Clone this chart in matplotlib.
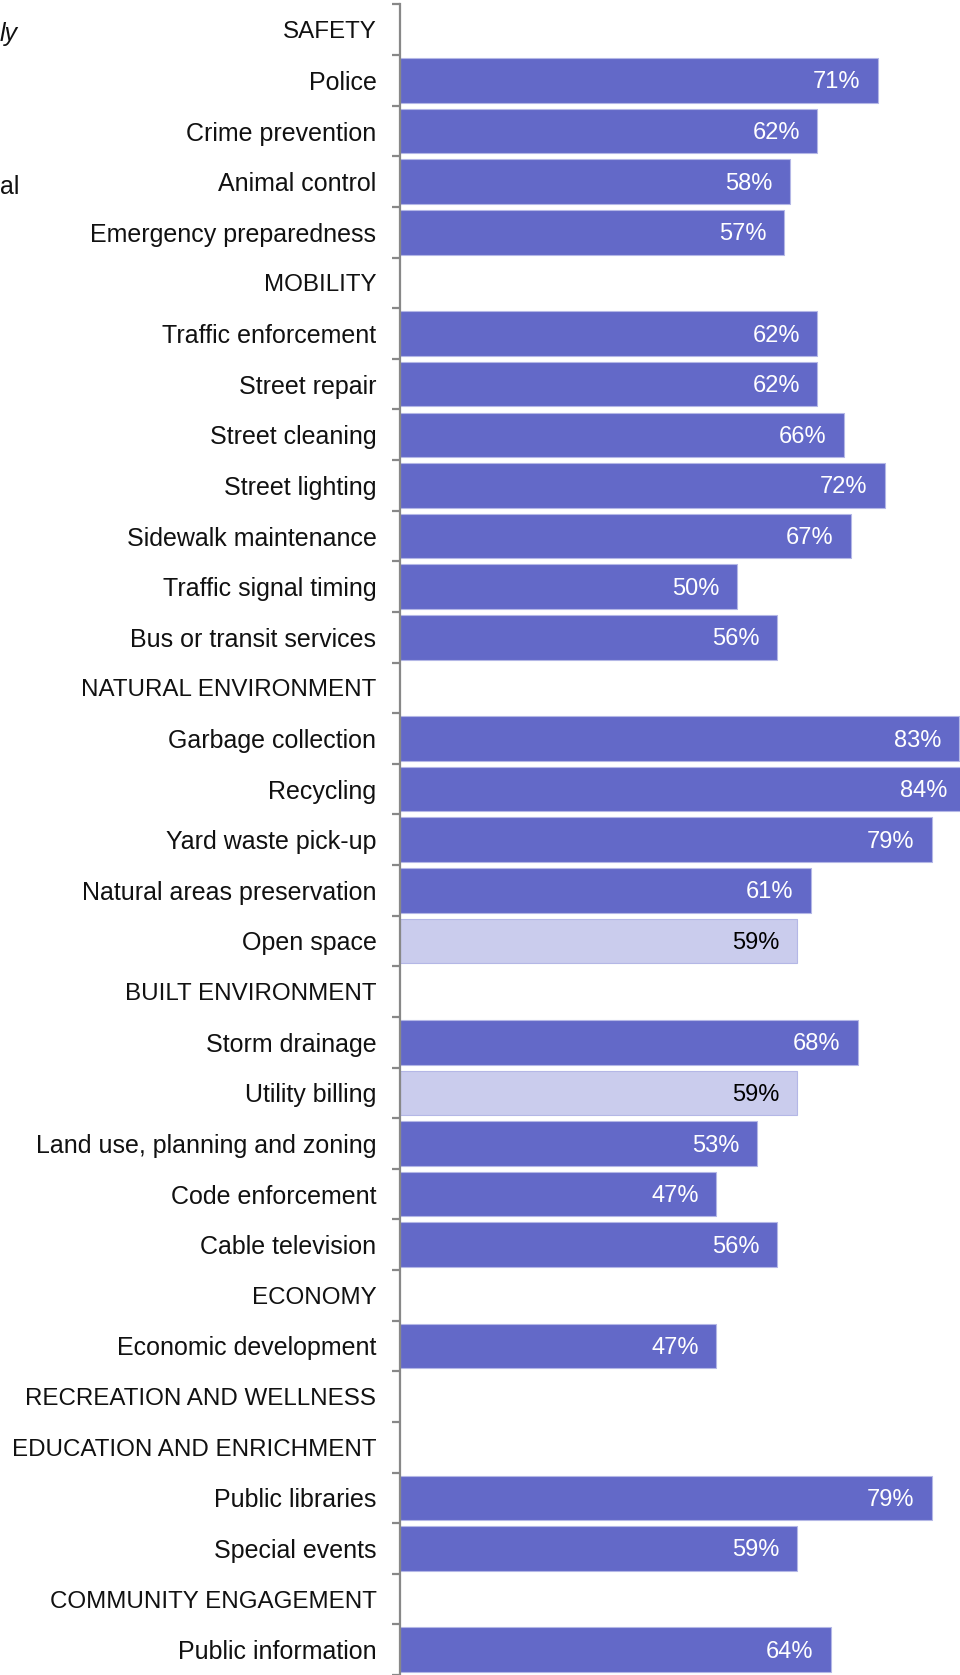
import matplotlib.pyplot as plt
import numpy as np

plt.rcParams['font.family'] = ['Liberation Sans', 'DejaVu Sans']

# rows top to bottom; section headers have no value
labels = ['SAFETY', 'Police', 'Crime prevention', 'Animal control', 'Emergency preparedness',
          'MOBILITY', 'Traffic enforcement', 'Street repair', 'Street cleaning', 'Street lighting',
          'Sidewalk maintenance', 'Traffic signal timing', 'Bus or transit services',
          'NATURAL ENVIRONMENT', 'Garbage collection', 'Recycling', 'Yard waste pick-up',
          'Natural areas preservation', 'Open space',
          'BUILT ENVIRONMENT', 'Storm drainage', 'Utility billing', 'Land use, planning and zoning',
          'Code enforcement', 'Cable television',
          'ECONOMY', 'Economic development',
          'RECREATION AND WELLNESS',
          'EDUCATION AND ENRICHMENT', 'Public libraries', 'Special events',
          'COMMUNITY ENGAGEMENT', 'Public information']
values = [None, 71, 62, 58, 57,
          None, 62, 62, 66, 72, 67, 50, 56,
          None, 83, 84, 79, 61, 59,
          None, 68, 59, 53, 47, 56,
          None, 47,
          None,
          None, 79, 59,
          None, 64]
light = ['Open space', 'Utility billing']

dark_col = '#6369c8'
light_col = '#cacced'

W, H = 960, 1675
fig = plt.figure(figsize=(W / 100, H / 100), dpi=100)
ax_left = 400 / W
row_h = 50.9
top_px = 4.5
nrows_vis = (H - top_px) / row_h
ax = fig.add_axes([ax_left, 0, 1 - ax_left, 1 - top_px / H])
ax.set_xlim(0, (W - 400) / 6.73)
ax.set_ylim(-0.5 + nrows_vis, -0.5)

y = np.arange(len(labels))
for i, (lab, v) in enumerate(zip(labels, values)):
    if v is None:
        continue
    c = light_col if lab in light else dark_col
    ax.barh(i, v, height=0.88, color=c, edgecolor='#b4b7e6', linewidth=0.8)
    tc = 'black' if lab in light else 'white'
    ax.text(v - 2.6, i + 0.04, f'{v}%', ha='right', va='center', fontsize=17, color=tc)

for s in ['top', 'right', 'bottom']:
    ax.spines[s].set_visible(False)
ax.spines['left'].set_color('#888888')
ax.spines['left'].set_linewidth(1.6)
ax.set_xticks([])
ax.set_yticks(y)
ax.set_yticklabels(labels, color='#111111')
for t in ax.get_yticklabels():
    t.set_fontsize(17.4 if t.get_text().isupper() else 18.0)
ax.tick_params(axis='y', which='major', length=0, pad=17)
ax.set_yticks(np.arange(len(labels) + 1) - 0.5, minor=True)
ax.tick_params(axis='y', which='minor', length=6, width=1.6, color='#888888')

# fragments of neighbouring text at the left edge
fig.text(0, 1 - 34 / H, 'ly', ha='left', va='center', fontsize=18, style='italic', color='#111111')
fig.text(0, 1 - 187 / H, 'al', ha='left', va='center', fontsize=18, color='#111111')

fig.savefig('out.png', dpi=100)
